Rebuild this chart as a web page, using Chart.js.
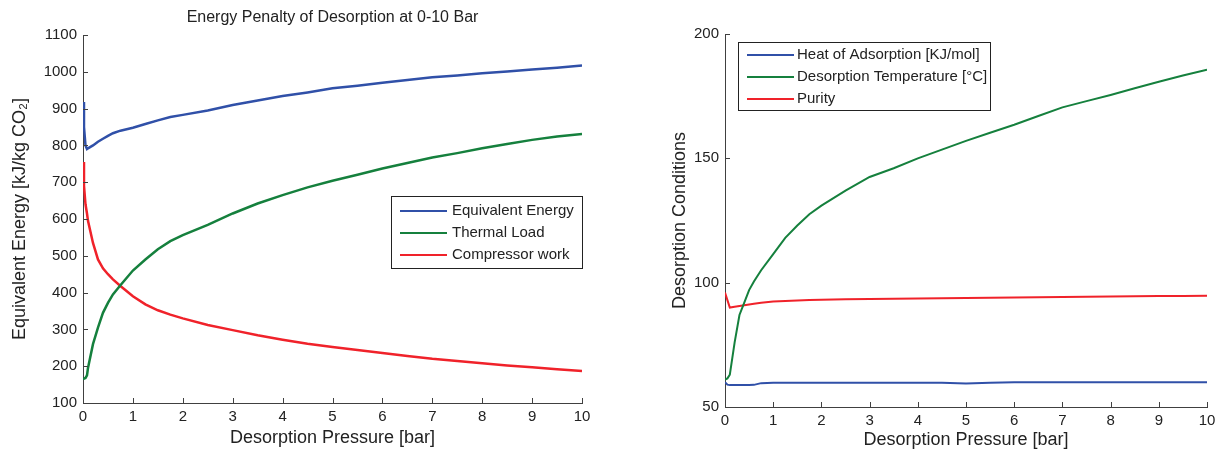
<!DOCTYPE html>
<html><head><meta charset="utf-8">
<script src="https://cdn.jsdelivr.net/npm/chart.js@4.4.1/dist/chart.umd.min.js"></script>
<style>
html,body{margin:0;padding:0;background:#fff;width:1225px;height:451px;overflow:hidden}
#c1{position:absolute;left:0;top:0}
#c2{position:absolute;left:612px;top:0}
</style></head><body>
<canvas id="c1" width="612" height="451"></canvas>
<canvas id="c2" width="613" height="451"></canvas>
<script>
// ---- Left chart data ----
const pressureLeft = [0, 0.02, 0.05, 0.08, 0.1, 0.2, 0.3, 0.4, 0.5, 0.6, 0.75, 1, 1.25, 1.5, 1.75, 2, 2.5, 3, 3.5, 4, 4.5, 5, 5.5, 6, 6.5, 7, 7.5, 8, 8.5, 9, 9.5, 10];
const equivalentEnergy = [918, 850, 800, 790, 792, 800, 810, 818, 826, 833, 840, 848, 858, 868, 877, 883, 895, 910, 922, 934, 944, 955, 962, 970, 978, 985, 990, 996, 1001, 1006, 1011, 1017];
const thermalLoad = [165, 165, 168, 175, 195, 260, 305, 345, 372, 395, 420, 460, 490, 518, 540, 556, 584, 615, 642, 665, 686, 704, 720, 737, 752, 767, 779, 792, 804, 815, 824, 831];
const compressorWork = [755, 690, 640, 615, 595, 535, 490, 466, 450, 436, 418, 390, 368, 352, 340, 330, 312, 298, 284, 272, 261, 252, 244, 236, 228, 220, 214, 208, 202, 197, 192, 187];
const leftLabels = ['Equivalent Energy', 'Thermal Load', 'Compressor work'];

// ---- Right chart data ----
const pressureRight = [0, 0.05, 0.1, 0.2, 0.3, 0.4, 0.5, 0.6, 0.75, 1, 1.25, 1.5, 1.75, 2, 2.5, 3, 3.5, 4, 4.5, 5, 5.5, 6, 6.5, 7, 7.5, 8, 8.5, 9, 9.5, 10];
const heatOfAdsorption = [60, 59, 58.8, 58.8, 58.8, 58.8, 58.8, 58.9, 59.6, 59.8, 59.8, 59.8, 59.8, 59.8, 59.8, 59.8, 59.8, 59.8, 59.8, 59.5, 59.8, 60, 60, 60, 60, 60, 60, 60, 60, 60];
const desorptionTemperature = [61, 61.5, 63, 76, 87, 92, 97, 100.5, 105, 111.5, 118, 123, 127.5, 131, 137, 142.5, 146, 150, 153.5, 157, 160.3, 163.5, 167, 170.5, 173, 175.5, 178.2, 180.8, 183.3, 185.6];
const purity = [96, 93, 90, 90.3, 90.6, 90.9, 91.2, 91.5, 91.9, 92.4, 92.6, 92.8, 93, 93.1, 93.3, 93.4, 93.5, 93.6, 93.7, 93.8, 93.9, 94, 94.1, 94.2, 94.3, 94.4, 94.5, 94.6, 94.6, 94.7];
const rightLabels = ['Heat of Adsorption [KJ/mol]', 'Desorption Temperature [°C]', 'Purity'];

const xTicks = [0,1,2,3,4,5,6,7,8,9,10];
const leftYTicks = [100,200,300,400,500,600,700,800,900,1000,1100];
const rightYTicks = [50,100,150,200];

const BLUE = '#3050a8', GREEN = '#15803d', RED = '#f0222a';
const FONT = "'Liberation Sans', Arial, sans-serif";
const pts = (xs, ys) => xs.map((x, i) => ({x, y: ys[i]}));

const inwardTicks = {
  id: 'inwardTicks',
  afterDraw(chart, args, o) {
    const ctx = chart.ctx; const {left, bottom} = chart.chartArea;
    const xs = chart.scales.x, ys = chart.scales.y;
    ctx.save(); ctx.strokeStyle = o.color; ctx.lineWidth = 1;
    ctx.beginPath();
    xs.ticks.forEach(t => { const p = Math.round(xs.getPixelForValue(t.value)) + 0.5; ctx.moveTo(p, bottom); ctx.lineTo(p, bottom - o.length); });
    ys.ticks.forEach(t => { const p = Math.round(ys.getPixelForValue(t.value)) + 0.5; ctx.moveTo(left, p); ctx.lineTo(left + o.length, p); });
    ctx.stroke(); ctx.restore();
  }
};
const boxLegend = {
  id: 'boxLegend',
  afterDraw(chart, args, o) {
    const ctx = chart.ctx;
    ctx.save();
    ctx.fillStyle = '#fff'; ctx.fillRect(o.x, o.y, o.w, o.h);
    ctx.strokeStyle = '#222'; ctx.lineWidth = 1; ctx.strokeRect(o.x + 0.5, o.y + 0.5, o.w, o.h);
    ctx.font = o.font; ctx.textBaseline = 'middle';
    chart.data.datasets.forEach((ds, i) => {
      const y = o.y + o.firstRow + i * o.rowGap;
      ctx.strokeStyle = ds.borderColor; ctx.lineWidth = o.lineWidth;
      ctx.beginPath(); ctx.moveTo(o.x + o.lineStart, y); ctx.lineTo(o.x + o.lineEnd, y); ctx.stroke();
      ctx.fillStyle = '#222';
      ctx.fillText(ds.label, o.x + o.textStart, y);
    });
    ctx.restore();
  }
};

function makeChart(id, cfg) {
  return new Chart(document.getElementById(id), {
    type: 'line',
    data: { datasets: cfg.datasets.map(d => ({
      label: d.label, data: d.data, borderColor: d.color, backgroundColor: d.color,
      borderWidth: cfg.lineWidth, pointRadius: 0, tension: 0, fill: false
    })) },
    options: {
      responsive: false, animation: false, devicePixelRatio: 1,
      layout: { padding: cfg.padding },
      plugins: {
        legend: { display: false },
        tooltip: { enabled: false },
        title: cfg.title ? { display: true, text: cfg.title, fullSize: false, color: '#222',
          font: { family: FONT, size: 16, weight: 'normal' }, padding: { top: 8, bottom: 7.8 } } : { display: false },
        inwardTicks: { color: '#404040', length: 5 },
        boxLegend: cfg.legend
      },
      scales: {
        x: {
          type: 'linear', min: 0, max: 10,
          afterBuildTicks: s => { s.ticks = xTicks.map(v => ({value: v})); },
          afterFit: s => { s.height = cfg.xHeight; },
          grid: { display: false, drawTicks: false },
          border: { display: true, color: '#404040', width: 1 },
          ticks: { color: '#222', padding: 5, font: { family: FONT, size: 15 }, maxRotation: 0, callback: v => String(v) },
          title: { display: true, text: 'Desorption Pressure [bar]', color: '#222',
            font: { family: FONT, size: 18 }, padding: { top: 0, bottom: cfg.xTitlePad } }
        },
        y: {
          type: 'linear', min: cfg.yMin, max: cfg.yMax,
          afterBuildTicks: s => { s.ticks = cfg.yTicks.map(v => ({value: v})); },
          afterFit: s => { s.width = cfg.yWidth; },
          grid: { display: false, drawTicks: false },
          border: { display: true, color: '#404040', width: 1 },
          ticks: { color: '#222', padding: 6, font: { family: FONT, size: 15 }, callback: v => String(v) },
          title: { display: true, text: cfg.yTitle, color: '#222',
            font: { family: FONT, size: 18 }, padding: { top: cfg.yTitlePad, bottom: 0 } }
        }
      }
    },
    plugins: [inwardTicks, boxLegend]
  });
}

makeChart('c1', {
  datasets: [
    { label: leftLabels[0], data: pts(pressureLeft, equivalentEnergy), color: BLUE },
    { label: leftLabels[1], data: pts(pressureLeft, thermalLoad), color: GREEN },
    { label: leftLabels[2], data: pts(pressureLeft, compressorWork), color: RED }
  ],
  lineWidth: 2.5,
  title: 'Energy Penalty of Desorption at 0-10 Bar',
  padding: { left: 0, right: 30, top: 0, bottom: 0 },
  xHeight: 48, yWidth: 83, xTitlePad: 2, yTitlePad: 9,
  yMin: 100, yMax: 1100, yTicks: leftYTicks,
  yTitle: 'Equivalent Energy [kJ/kg CO₂]',
  legend: { x: 391, y: 196, w: 191, h: 72, firstRow: 15, rowGap: 22, lineStart: 9, lineEnd: 56, textStart: 61, lineWidth: 2, font: "15px " + FONT }
});

makeChart('c2', {
  datasets: [
    { label: rightLabels[0], data: pts(pressureRight, heatOfAdsorption), color: BLUE },
    { label: rightLabels[1], data: pts(pressureRight, desorptionTemperature), color: GREEN },
    { label: rightLabels[2], data: pts(pressureRight, purity), color: RED }
  ],
  lineWidth: 2,
  title: null,
  padding: { left: 0, right: 18, top: 34, bottom: 0 },
  xHeight: 44, yWidth: 113, xTitlePad: 0, yTitlePad: 57,
  yMin: 50, yMax: 200, yTicks: rightYTicks,
  yTitle: 'Desorption Conditions',
  legend: { x: 126, y: 42, w: 252, h: 68, firstRow: 13, rowGap: 22, lineStart: 9, lineEnd: 56, textStart: 59, lineWidth: 2, font: "15px " + FONT }
});
</script>
</body></html>
